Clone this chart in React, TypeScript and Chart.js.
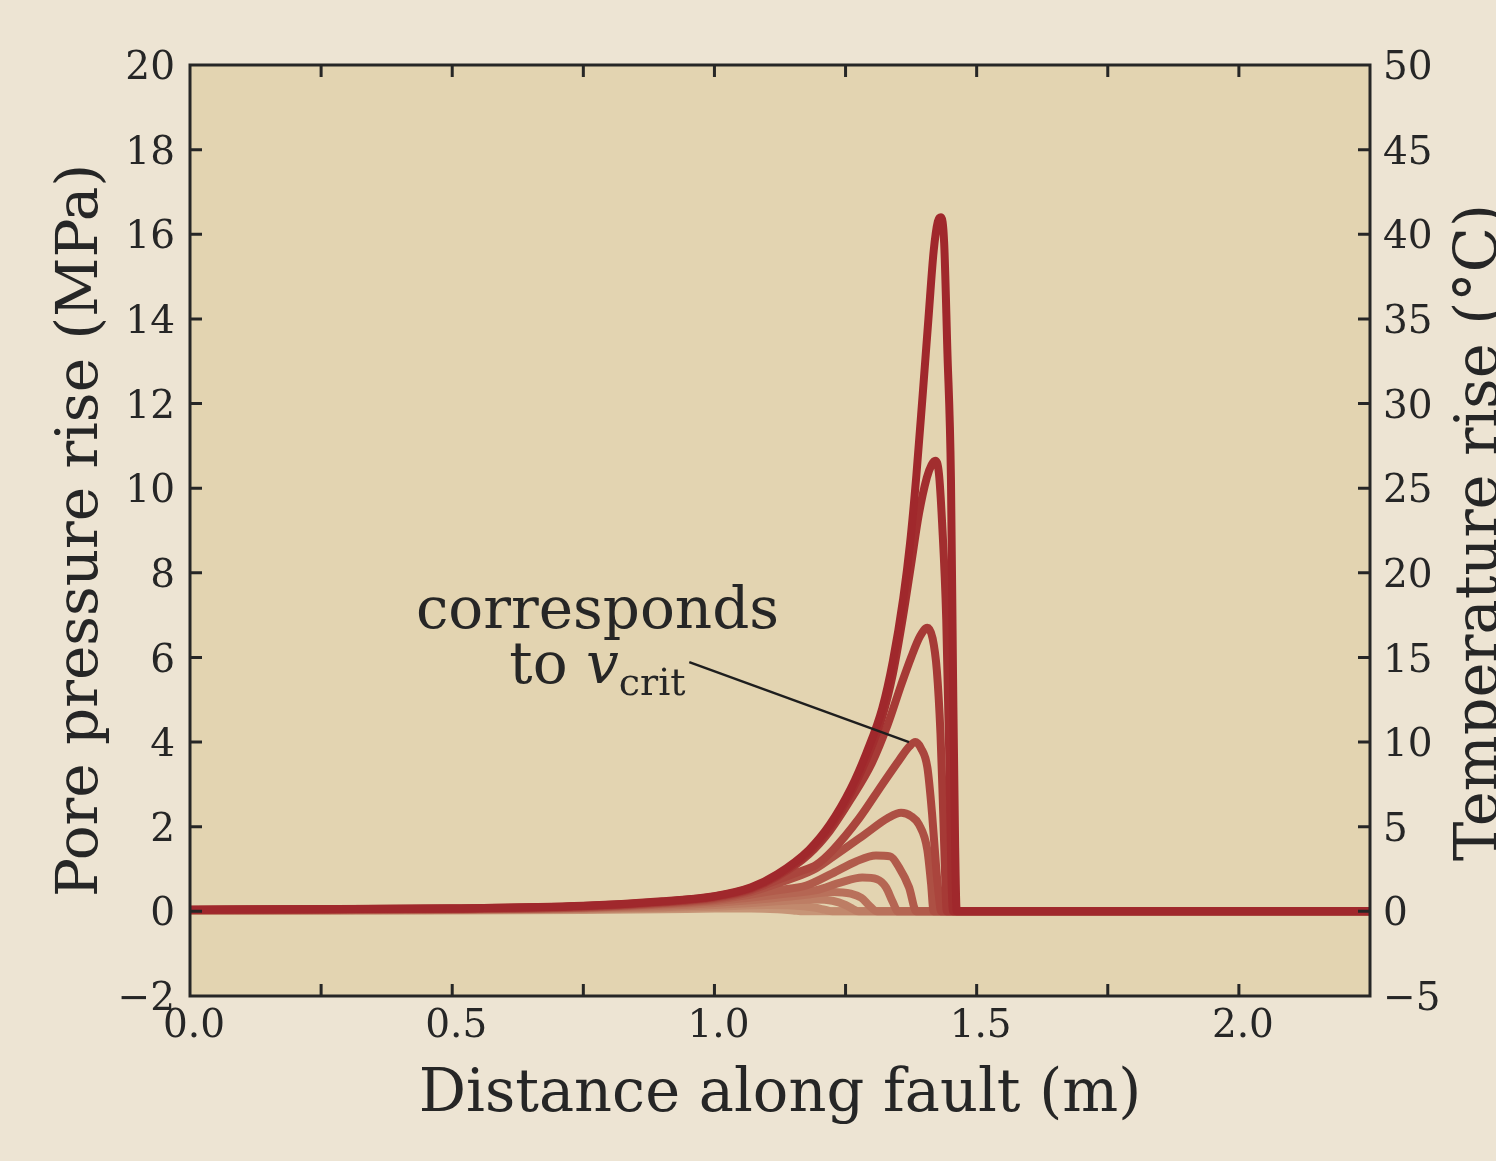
import React, { useEffect, useRef } from 'react';
import { Chart, registerables } from 'chart.js';

Chart.register(...registerables);

// ---------- axes ----------
const X_MIN = 0;
const X_MAX = 2.25;
const X_STEP = 0.25;
const X_LABEL_VALUES = [0, 0.5, 1.0, 1.5, 2.0];
const Y_MIN = -2;
const Y_MAX = 20;
const Y_STEP = 2;
const Y2_MIN = -5;
const Y2_MAX = 50;
const Y2_STEP = 5;

const X_TITLE = 'Distance along fault (m)';
const Y_TITLE = 'Pore pressure rise (MPa)';
const Y2_TITLE = 'Temperature rise (°C)';

// ---------- curves (distance m, pore pressure rise MPa) ----------
const c1x = [0, 0.25, 0.5, 0.75, 0.9, 1.0, 1.07, 1.12, 1.18, 1.22, 1.26, 1.29, 1.32, 1.34, 1.36, 1.373, 1.385, 1.397, 1.408, 1.418, 1.426, 1.432, 1.438, 1.444, 1.451, 1.455, 1.459, 1.462, 1.8, 2.25];
const c1y = [0.04, 0.05, 0.07, 0.13, 0.24, 0.36, 0.57, 0.88, 1.45, 2.05, 2.9, 3.75, 4.8, 5.9, 7.4, 8.7, 10.3, 12.2, 14.0, 15.6, 16.3, 16.4, 15.8, 13.3, 10.2, 5.5, 1.5, 0, 0, 0];

const c2x = [0, 0.5, 0.75, 0.9, 1.0, 1.07, 1.12, 1.18, 1.22, 1.26, 1.29, 1.32, 1.34, 1.36, 1.375, 1.39, 1.405, 1.414, 1.421, 1.428, 1.434, 1.442, 1.448, 1.452, 1.455, 2.25];
const c2y = [0.04, 0.07, 0.125, 0.23, 0.35, 0.55, 0.85, 1.4, 1.98, 2.8, 3.6, 4.6, 5.6, 7.0, 8.2, 9.4, 10.25, 10.55, 10.65, 10.35, 9.2, 6.9, 3.5, 0.8, 0, 0];

const c3x = [0, 0.5, 0.75, 0.9, 1.0, 1.07, 1.12, 1.18, 1.22, 1.26, 1.3, 1.33, 1.356, 1.375, 1.392, 1.406, 1.416, 1.424, 1.431, 1.436, 1.44, 1.443, 2.25];
const c3y = [0.04, 0.065, 0.12, 0.22, 0.34, 0.53, 0.82, 1.35, 1.9, 2.65, 3.5, 4.4, 5.35, 6.0, 6.5, 6.7, 6.45, 5.7, 4.2, 2.4, 0.8, 0, 0];

const c4x = [0, 0.5, 0.75, 0.9, 1.0, 1.07, 1.12, 1.16, 1.194, 1.225, 1.276, 1.32, 1.352, 1.372, 1.383, 1.394, 1.406, 1.415, 1.423, 1.429, 1.432, 2.25];
const c4y = [0.03, 0.06, 0.11, 0.21, 0.32, 0.5, 0.74, 0.93, 1.1, 1.44, 2.2, 3.0, 3.57, 3.9, 4.0, 3.85, 3.4, 2.3, 1.0, 0.25, 0, 0];

const c5x = [0, 0.5, 0.75, 0.9, 1.0, 1.07, 1.12, 1.187, 1.225, 1.289, 1.33, 1.356, 1.375, 1.39, 1.406, 1.413, 1.418, 2.25];
const c5y = [0.03, 0.055, 0.1, 0.2, 0.3, 0.46, 0.66, 0.97, 1.28, 1.84, 2.2, 2.33, 2.25, 2.05, 1.45, 0.66, 0, 0];

const c6x = [0, 0.5, 0.75, 0.9, 1.0, 1.07, 1.12, 1.175, 1.225, 1.27, 1.308, 1.335, 1.352, 1.371, 1.385, 2.25];
const c6y = [0.03, 0.05, 0.09, 0.18, 0.27, 0.4, 0.5, 0.61, 0.9, 1.18, 1.32, 1.3, 1.04, 0.57, 0, 0];

const c7x = [0, 0.5, 0.75, 0.9, 1.0, 1.07, 1.13, 1.194, 1.24, 1.282, 1.31, 1.327, 1.34, 1.35, 2.25];
const c7y = [0.03, 0.05, 0.085, 0.16, 0.24, 0.33, 0.41, 0.5, 0.68, 0.8, 0.76, 0.57, 0.22, 0, 0];

const c8x = [0, 0.5, 0.75, 0.9, 1.0, 1.1, 1.18, 1.225, 1.26, 1.28, 1.295, 1.31, 2.25];
const c8y = [0.02, 0.04, 0.075, 0.13, 0.2, 0.3, 0.4, 0.46, 0.42, 0.32, 0.14, 0, 0];

const c9x = [0, 0.5, 0.75, 0.9, 1.0, 1.1, 1.19, 1.225, 1.25, 1.265, 1.275, 2.25];
const c9y = [0.02, 0.035, 0.06, 0.1, 0.15, 0.22, 0.28, 0.25, 0.15, 0.05, 0, 0];

const c10x = [0, 0.5, 0.75, 0.9, 1.0, 1.1, 1.15, 1.19, 1.21, 1.225, 2.25];
const c10y = [0.015, 0.03, 0.05, 0.08, 0.11, 0.15, 0.14, 0.09, 0.04, 0, 0];

const c11x = [0, 0.5, 0.75, 0.9, 1.0, 1.07, 1.12, 1.15, 1.17, 2.25];
const c11y = [0.01, 0.02, 0.035, 0.05, 0.065, 0.07, 0.05, 0.02, 0, 0];

const CURVE_X = [c1x, c2x, c3x, c4x, c5x, c6x, c7x, c8x, c9x, c10x, c11x];
const CURVE_Y = [c1y, c2y, c3y, c4y, c5y, c6y, c7y, c8y, c9y, c10y, c11y];
const CURVE_COLORS = ['#a0282c', '#a22e2f', '#a63a36', '#aa453d', '#ad5044', '#b15b4b', '#b56653', '#b9715b', '#bd7d64', '#c2896d', '#c79577'];

// ---------- annotation (data coordinates) ----------
const NOTE_LINE1 = 'corresponds';
const NOTE_LINE2 = 'to ';
const NOTE_VAR = 'v';
const NOTE_SUB = 'crit';
const NOTE_CENTER_X = 0.777;
const NOTE_BASE1_Y = 6.69;
const NOTE_BASE2_Y = 5.39;
const NOTE_FROM = { x: 0.952, y: 5.89 };
const NOTE_TO = { x: 1.371, y: 4.0 };

// ---------- style ----------
const OUTER_BG = '#ede4d3';
const PLOT_BG = '#e3d4b1';
const INK = '#262626';
const SERIF = '"DejaVu Serif", serif';

const W = 1496;
const H = 1161;

const fmtMinus = (v: number, digits = 0) => {
  const s = Math.abs(v).toFixed(digits);
  return v < 0 ? '\u2212' + s : s;
};

const bgPlugin = {
  id: 'bgPlugin',
  beforeDraw(chart: any) {
    const { ctx, chartArea: a } = chart;
    ctx.save();
    ctx.fillStyle = OUTER_BG;
    ctx.fillRect(0, 0, chart.width, chart.height);
    ctx.fillStyle = PLOT_BG;
    ctx.fillRect(a.left, a.top, a.right - a.left, a.bottom - a.top);
    ctx.restore();
  },
};

const framePlugin = {
  id: 'framePlugin',
  afterDatasetsDraw(chart: any) {
    const { ctx, chartArea: a, scales } = chart;
    const TL = 12;
    ctx.save();
    ctx.strokeStyle = INK;
    ctx.lineWidth = 3;
    ctx.beginPath();
    scales.x.ticks.forEach((t: any) => {
      const px = scales.x.getPixelForValue(t.value);
      if (px <= a.left + 1 || px >= a.right - 1) return;
      ctx.moveTo(px, a.bottom);
      ctx.lineTo(px, a.bottom - TL);
      ctx.moveTo(px, a.top);
      ctx.lineTo(px, a.top + TL);
    });
    scales.y.ticks.forEach((t: any) => {
      const py = scales.y.getPixelForValue(t.value);
      if (py <= a.top + 1 || py >= a.bottom - 1) return;
      ctx.moveTo(a.left, py);
      ctx.lineTo(a.left + TL, py);
    });
    scales.y2.ticks.forEach((t: any) => {
      const py = scales.y2.getPixelForValue(t.value);
      if (py <= a.top + 1 || py >= a.bottom - 1) return;
      ctx.moveTo(a.right, py);
      ctx.lineTo(a.right - TL, py);
    });
    ctx.stroke();
    ctx.lineJoin = 'miter';
    ctx.strokeRect(a.left, a.top, a.right - a.left, a.bottom - a.top);
    ctx.restore();
  },
};

const notePlugin = {
  id: 'notePlugin',
  afterDraw(chart: any) {
    const { ctx, chartArea: a, scales } = chart;
    const xs = scales.x;
    const ys = scales.y;
    ctx.save();
    ctx.strokeStyle = '#1e1e1e';
    ctx.lineWidth = 2.5;
    ctx.beginPath();
    ctx.moveTo(xs.getPixelForValue(NOTE_FROM.x), ys.getPixelForValue(NOTE_FROM.y));
    ctx.lineTo(xs.getPixelForValue(NOTE_TO.x), ys.getPixelForValue(NOTE_TO.y));
    ctx.stroke();

    ctx.fillStyle = INK;
    ctx.textBaseline = 'alphabetic';
    const cx = xs.getPixelForValue(NOTE_CENTER_X);
    ctx.font = `58px ${SERIF}`;
    ctx.textAlign = 'center';
    ctx.fillText(NOTE_LINE1, cx, ys.getPixelForValue(NOTE_BASE1_Y));

    const b2 = ys.getPixelForValue(NOTE_BASE2_Y);
    ctx.textAlign = 'left';
    ctx.font = `58px ${SERIF}`;
    const w1 = ctx.measureText(NOTE_LINE2).width;
    ctx.font = `italic 58px ${SERIF}`;
    const w2 = ctx.measureText(NOTE_VAR).width;
    ctx.font = `38px ${SERIF}`;
    const w3 = ctx.measureText(NOTE_SUB).width;
    let x0 = cx - (w1 + w2 + w3) / 2;
    ctx.font = `58px ${SERIF}`;
    ctx.fillText(NOTE_LINE2, x0, b2);
    x0 += w1;
    ctx.font = `italic 58px ${SERIF}`;
    ctx.fillText(NOTE_VAR, x0, b2);
    x0 += w2;
    ctx.font = `38px ${SERIF}`;
    ctx.fillText(NOTE_SUB, x0, b2 + 12);

    ctx.font = `59px ${SERIF}`;
    ctx.textAlign = 'center';
    ctx.textBaseline = 'alphabetic';
    ctx.translate(a.right + 127, (a.top + a.bottom) / 2 + 2);
    ctx.rotate(-Math.PI / 2);
    ctx.fillText(Y2_TITLE, 0, 0);
    ctx.restore();
  },
};

export default function App() {
  const ref = useRef<HTMLCanvasElement | null>(null);

  useEffect(() => {
    if (!ref.current) return;
    const datasets = CURVE_X.map((xs, i) => ({
      label: `curve ${i + 1}`,
      data: xs.map((x, j) => ({ x, y: CURVE_Y[i][j] })),
      borderColor: CURVE_COLORS[i],
      backgroundColor: CURVE_COLORS[i],
      borderWidth: 8,
      pointRadius: 0,
      fill: false,
      cubicInterpolationMode: 'monotone' as const,
      borderCapStyle: 'round' as const,
      borderJoinStyle: 'round' as const,
      yAxisID: 'y',
      xAxisID: 'x',
    }));

    const tickFont = { family: SERIF, size: 39 };
    const chart = new Chart(ref.current, {
      type: 'line',
      data: { datasets },
      options: {
        responsive: false,
        animation: false,
        devicePixelRatio: 1,
        layout: { padding: { top: 65, left: 0, right: 0, bottom: 0 } },
        plugins: { legend: { display: false }, tooltip: { enabled: false } },
        scales: {
          x: {
            type: 'linear',
            position: 'bottom',
            min: X_MIN,
            max: X_MAX,
            grid: { display: false, drawTicks: false },
            border: { display: false },
            ticks: {
              stepSize: X_STEP,
              autoSkip: false,
              maxRotation: 0,
              padding: 7,
              labelOffset: 4,
              color: INK,
              font: tickFont,
              callback: (v: any) => {
                const n = Number(v);
                return X_LABEL_VALUES.some((l) => Math.abs(l - n) < 1e-6) ? n.toFixed(1) : '';
              },
            },
            title: {
              display: true,
              text: X_TITLE,
              color: INK,
              font: { family: SERIF, size: 59 },
              padding: { top: 0, bottom: 30 },
            },
            afterFit: (s: any) => {
              s.height = H - 996;
            },
          },
          y: {
            type: 'linear',
            position: 'left',
            min: Y_MIN,
            max: Y_MAX,
            grid: { display: false, drawTicks: false },
            border: { display: false },
            ticks: {
              stepSize: Y_STEP,
              padding: 15,
              labelOffset: 4,
              color: INK,
              font: tickFont,
              callback: (v: any) => fmtMinus(Number(v)),
            },
            title: {
              display: true,
              text: Y_TITLE,
              color: INK,
              font: { family: SERIF, size: 58 },
              padding: { top: 47, bottom: 0 },
            },
            afterFit: (s: any) => {
              s.width = 190;
            },
          },
          y2: {
            type: 'linear',
            position: 'right',
            min: Y2_MIN,
            max: Y2_MAX,
            grid: { display: false, drawTicks: false },
            border: { display: false },
            ticks: {
              stepSize: Y2_STEP,
              padding: 13,
              labelOffset: 4,
              color: INK,
              font: tickFont,
              callback: (v: any) => fmtMinus(Number(v)),
            },
            afterFit: (s: any) => {
              s.width = W - 1370;
            },
          },
        },
      },
      plugins: [bgPlugin, framePlugin, notePlugin],
    });
    return () => chart.destroy();
  }, []);

  return (
    <div style={{ position: 'fixed', left: 0, top: 0, width: W, height: H, background: OUTER_BG }}>
      <canvas ref={ref} width={W} height={H} style={{ width: W, height: H, display: 'block' }} />
    </div>
  );
}
